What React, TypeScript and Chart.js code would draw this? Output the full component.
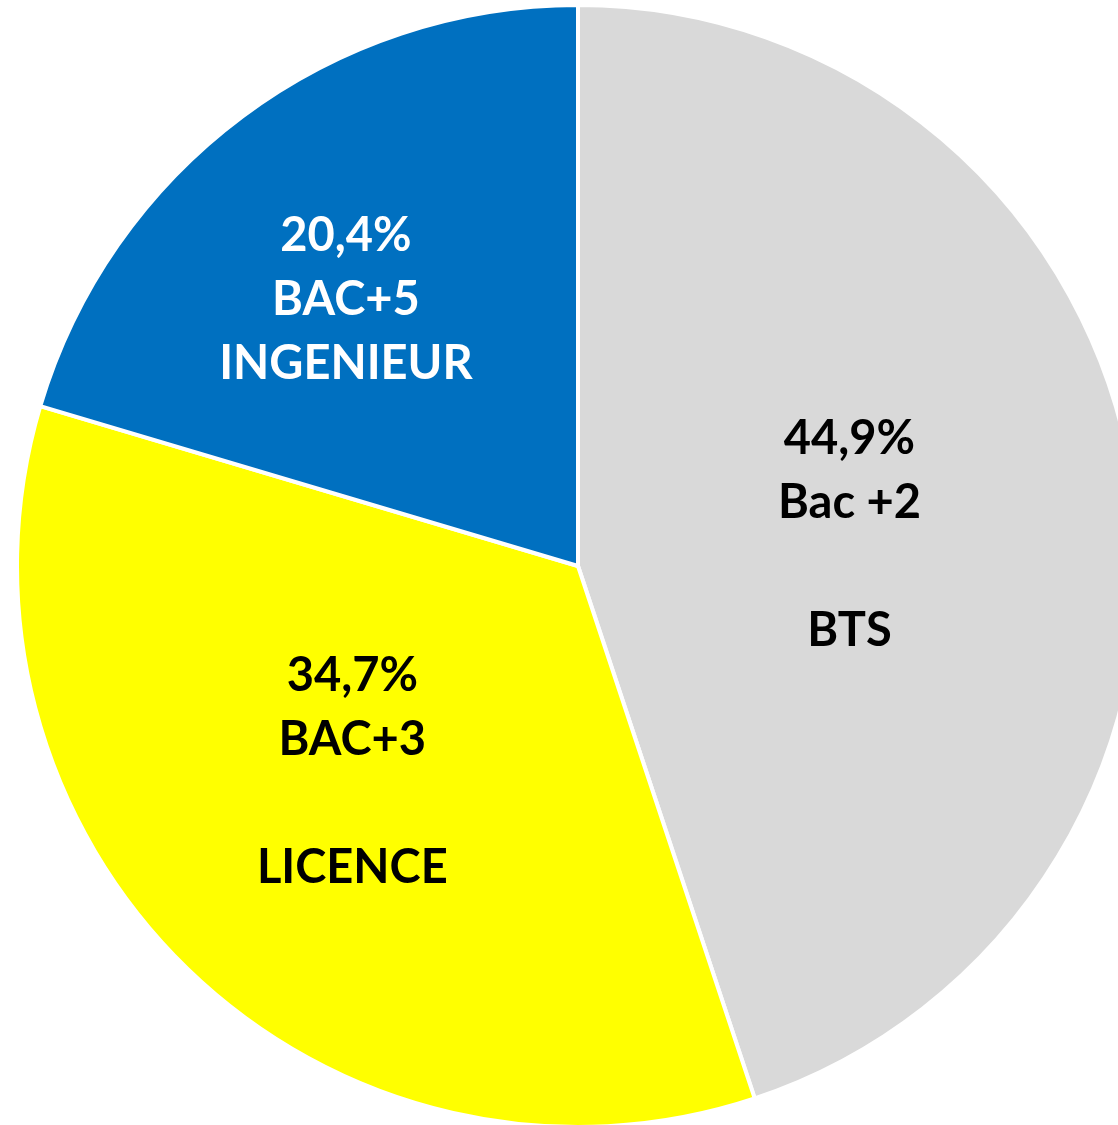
import React, { useEffect, useRef } from "react";
import { Chart, registerables } from "chart.js";

Chart.register(...registerables);

const categories = ["BTS", "LICENCE", "INGENIEUR"];
const levels = ["Bac +2", "BAC+3", "BAC+5"];
const values = [44.9, 34.7, 20.4];
const colors = ["#D9D9D9", "#FFFF00", "#0070C0"];
const labelColors = ["#000000", "#000000", "#FFFFFF"];
const blankLineBefore = [true, true, false];

const labelPlacement = [
  { frac: 0.487, angleShift: 2.7 },
  { frac: 0.544, angleShift: 3.6 },
  { frac: 0.629, angleShift: -4.4 },
];

const fmt = (v: number) => v.toFixed(1).replace(".", ",") + "%";

const labelPlugin = {
  id: "sliceLabels",
  afterDatasetsDraw(chart: any) {
    const meta = chart.getDatasetMeta(0);
    const ctx = chart.ctx;
    ctx.save();
    ctx.font = "bold 47px Lato, 'Open Sans', sans-serif";
    ctx.textAlign = "center";
    ctx.textBaseline = "middle";
    const lineH = 64;
    meta.data.forEach((arc: any, i: number) => {
      const { x, y, startAngle, endAngle, outerRadius } = arc.getProps(
        ["x", "y", "startAngle", "endAngle", "outerRadius"],
        true
      );
      const p = labelPlacement[i];
      const mid = (startAngle + endAngle) / 2 + (p.angleShift * Math.PI) / 180;
      const cx = x + Math.cos(mid) * outerRadius * p.frac;
      const cy = y + Math.sin(mid) * outerRadius * p.frac;
      const lines = [fmt(values[i]), levels[i]];
      if (blankLineBefore[i]) lines.push("");
      lines.push(categories[i]);
      const top = cy - ((lines.length - 1) * lineH) / 2;
      ctx.fillStyle = labelColors[i];
      lines.forEach((t, k) => {
        if (t) ctx.fillText(t, cx, top + k * lineH);
      });
    });
    ctx.restore();
  },
};

export default function App() {
  const ref = useRef<HTMLCanvasElement>(null);
  useEffect(() => {
    if (!ref.current) return;
    const chart = new Chart(ref.current, {
      type: "pie",
      data: {
        labels: categories,
        datasets: [
          {
            data: values,
            backgroundColor: colors,
            borderColor: "#FFFFFF",
            borderWidth: 4,
          },
        ],
      },
      options: {
        responsive: false,
        animation: false,
        layout: { padding: 3 },
        plugins: {
          legend: { display: false },
          tooltip: { enabled: false },
        },
      },
      plugins: [labelPlugin],
    });
    return () => chart.destroy();
  }, []);
  return (
    <div
      style={{
        position: "absolute",
        left: 0,
        top: 0,
        width: 1118,
        height: 1125,
        overflow: "hidden",
        background: "#FFFFFF",
      }}
    >
      <canvas ref={ref} width={1156} height={1132} style={{ display: "block" }} />
    </div>
  );
}
